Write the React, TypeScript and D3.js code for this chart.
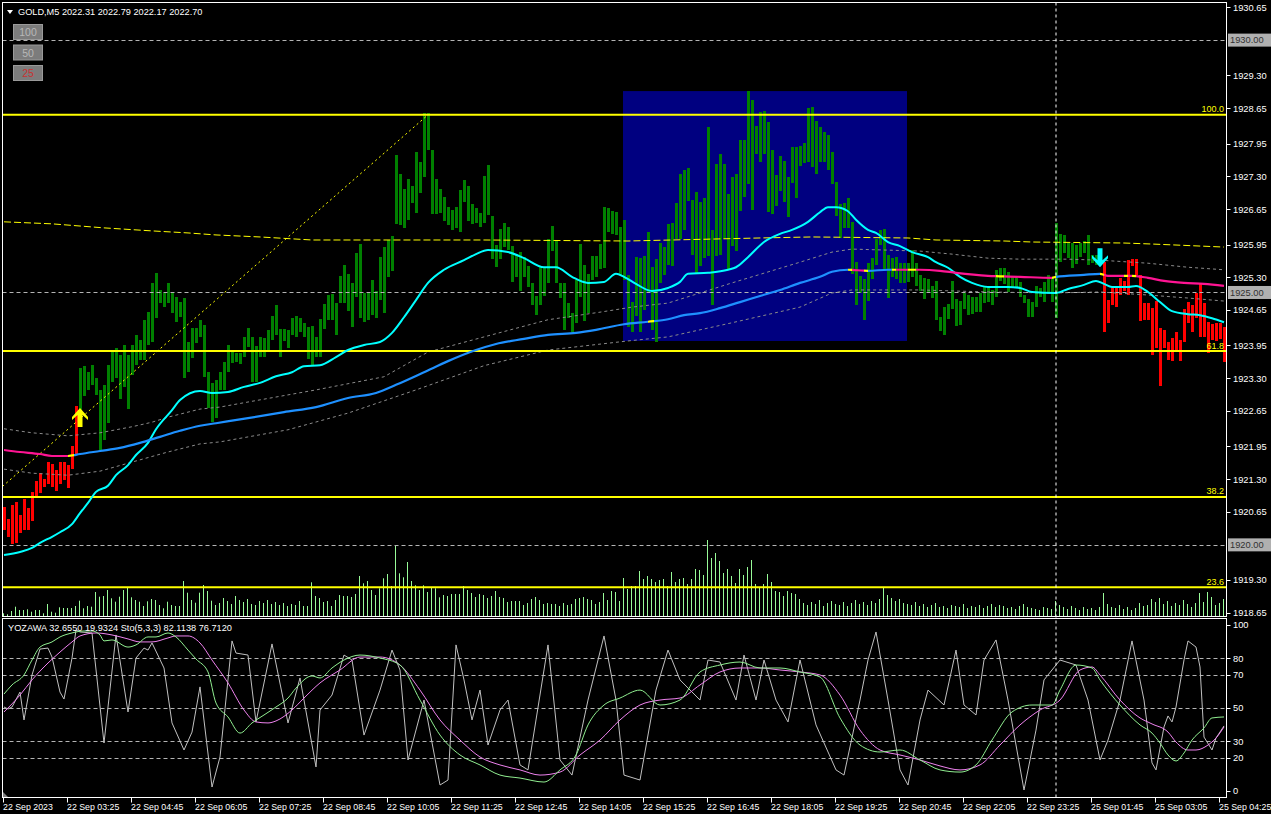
import React from 'react';
import * as d3 from 'd3';

type Knot = [number, number];
type Trend = 'up' | 'down' | 'flat';

// ---- GOLD M5 bars (high / low), bar 0 = 22 Sep 02:05 ----
const highs = [
  1920.75, 1920.51, 1920.79, 1920.85, 1920.59, 1920.91, 1920.73, 1921.05, 1921.26, 1921.42,
  1921.30, 1921.64, 1921.60, 1921.48, 1921.64, 1921.64, 1921.58, 1921.96, 1922.75, 1923.50,
  1923.54, 1923.42, 1923.56, 1923.31, 1923.07, 1923.17, 1923.56, 1923.86, 1923.90, 1923.76,
  1923.96, 1923.76, 1923.96, 1924.16, 1924.06, 1924.46, 1924.61, 1925.19, 1925.39, 1925.05,
  1924.99, 1925.19, 1924.99, 1924.91, 1924.81, 1924.89, 1924.02, 1924.30, 1924.30, 1924.46,
  1924.36, 1923.42, 1923.21, 1923.27, 1923.42, 1923.62, 1923.96, 1923.82, 1923.80, 1923.80,
  1924.12, 1924.30, 1924.12, 1923.94, 1924.12, 1924.10, 1924.26, 1924.53, 1924.75, 1924.28,
  1924.28, 1924.26, 1924.49, 1924.53, 1924.49, 1924.40, 1924.32, 1924.34, 1924.12, 1924.47,
  1924.77, 1924.95, 1924.97, 1924.79, 1925.33, 1925.54, 1925.37, 1925.19, 1925.78, 1925.96,
  1924.99, 1924.99, 1925.25, 1925.03, 1925.70, 1925.90, 1926.04, 1926.12, 1927.72, 1927.35,
  1927.05, 1927.25, 1927.11, 1927.78, 1927.58, 1928.56, 1928.56, 1927.82, 1927.25, 1927.05,
  1926.89, 1926.69, 1926.63, 1926.69, 1927.03, 1927.23, 1927.11, 1926.75, 1926.67, 1926.57,
  1927.31, 1927.53, 1926.52, 1925.94, 1926.26, 1926.38, 1926.30, 1925.92, 1925.76, 1925.80,
  1925.70, 1925.52, 1925.19, 1924.93, 1925.50, 1925.50, 1926.06, 1926.32, 1926.04, 1925.19,
  1925.19, 1924.79, 1924.59, 1925.25, 1925.96, 1925.54, 1925.37, 1925.72, 1925.72, 1925.96,
  1926.69, 1926.67, 1926.61, 1926.59, 1926.30, 1926.44, 1925.35, 1924.81, 1925.70, 1925.68,
  1925.72, 1926.20, 1925.50, 1925.66, 1925.98, 1925.90, 1926.36, 1926.38, 1926.77, 1927.35,
  1927.43, 1927.47, 1926.83, 1926.99, 1926.79, 1926.87, 1928.28, 1926.24, 1927.55, 1927.74,
  1927.55, 1926.95, 1927.29, 1927.35, 1928.02, 1928.02, 1928.99, 1928.81, 1928.30, 1928.58,
  1928.60, 1928.38, 1927.82, 1927.33, 1927.70, 1927.61, 1927.29, 1927.88, 1927.88, 1927.90,
  1927.96, 1928.66, 1928.68, 1928.40, 1928.28, 1928.18, 1928.12, 1927.78, 1927.19, 1926.75,
  1926.77, 1926.87, 1926.40, 1925.60, 1925.33, 1925.27, 1925.58, 1925.68, 1926.06, 1926.24,
  1926.26, 1925.74, 1925.68, 1925.70, 1925.58, 1925.58, 1925.58, 1925.84, 1925.58, 1925.35,
  1925.29, 1925.27, 1925.13, 1925.23, 1924.51, 1924.71, 1924.77, 1925.23, 1924.87, 1924.83,
  1924.99, 1924.95, 1924.91, 1924.91, 1924.99, 1925.11, 1925.09, 1925.05, 1925.45, 1925.49,
  1925.49, 1925.41, 1925.31, 1925.31, 1925.21, 1924.95, 1924.87, 1924.81, 1925.13, 1925.09,
  1925.21, 1925.35, 1925.29, 1926.38, 1926.16, 1926.14, 1925.98, 1925.98, 1925.94, 1925.98,
  1926.02, 1926.14, 1925.74, 1925.74, 1925.74, 1925.60, 1924.85, 1925.09, 1925.09, 1925.29,
  1925.23, 1925.64, 1925.66, 1925.66, 1925.35, 1924.79, 1924.79, 1924.69, 1924.83, 1924.30,
  1924.26, 1924.02, 1924.10, 1924.22, 1924.06, 1924.67, 1924.81, 1924.75, 1924.99, 1925.19,
  1924.79, 1924.42, 1924.38, 1924.40, 1924.40, 1924.32,
];

const lows = [
  1920.29, 1920.16, 1920.02, 1920.04, 1920.23, 1920.29, 1920.29, 1920.47, 1920.95, 1921.03,
  1921.15, 1921.21, 1921.15, 1921.07, 1921.21, 1921.28, 1921.13, 1921.50, 1921.80, 1922.33,
  1922.95, 1923.07, 1923.17, 1922.97, 1921.88, 1922.08, 1922.41, 1923.23, 1923.31, 1922.89,
  1923.13, 1922.69, 1923.36, 1923.56, 1923.66, 1923.66, 1923.96, 1924.02, 1924.49, 1924.79,
  1924.71, 1924.79, 1924.59, 1924.42, 1924.51, 1923.31, 1923.42, 1923.70, 1924.00, 1924.12,
  1923.33, 1922.71, 1922.43, 1922.51, 1923.07, 1923.07, 1923.42, 1923.60, 1923.62, 1923.58,
  1923.72, 1923.92, 1923.23, 1923.23, 1923.72, 1923.72, 1923.86, 1924.06, 1924.16, 1923.72,
  1924.04, 1923.90, 1924.16, 1924.12, 1924.22, 1924.12, 1923.68, 1923.56, 1923.72, 1923.72,
  1924.28, 1924.46, 1924.46, 1924.16, 1924.79, 1924.79, 1924.63, 1924.32, 1924.91, 1924.49,
  1924.42, 1924.46, 1924.55, 1924.49, 1924.85, 1924.59, 1925.31, 1925.43, 1926.36, 1926.34,
  1926.28, 1926.44, 1926.77, 1926.57, 1926.97, 1927.29, 1927.82, 1926.55, 1926.55, 1926.57,
  1926.42, 1926.34, 1926.24, 1926.28, 1926.20, 1926.79, 1926.42, 1926.36, 1926.38, 1926.30,
  1926.38, 1926.54, 1925.66, 1925.50, 1925.66, 1925.90, 1925.84, 1925.21, 1925.31, 1925.03,
  1925.31, 1925.11, 1924.75, 1924.55, 1924.75, 1924.93, 1925.19, 1925.82, 1925.19, 1924.89,
  1924.26, 1924.49, 1924.22, 1924.40, 1924.91, 1924.43, 1924.59, 1925.25, 1925.31, 1925.47,
  1925.49, 1926.20, 1926.16, 1926.14, 1925.35, 1925.25, 1924.32, 1924.22, 1924.53, 1924.22,
  1924.65, 1924.99, 1924.26, 1924.02, 1925.19, 1925.35, 1925.54, 1925.52, 1926.06, 1926.06,
  1926.24, 1926.81, 1925.74, 1925.39, 1925.52, 1925.68, 1925.72, 1924.75, 1925.72, 1925.74,
  1926.06, 1925.47, 1925.92, 1925.82, 1926.61, 1926.89, 1927.15, 1926.63, 1927.74, 1927.58,
  1927.74, 1926.59, 1926.55, 1926.71, 1927.01, 1926.79, 1926.50, 1927.17, 1926.87, 1927.51,
  1927.57, 1927.58, 1927.49, 1927.35, 1927.58, 1927.58, 1927.43, 1927.15, 1926.52, 1926.08,
  1926.28, 1926.28, 1925.37, 1924.75, 1924.99, 1924.46, 1924.83, 1925.27, 1925.54, 1925.94,
  1925.47, 1924.89, 1925.31, 1925.27, 1925.19, 1925.19, 1925.21, 1925.31, 1925.13, 1925.03,
  1924.87, 1924.99, 1924.89, 1924.46, 1924.24, 1924.16, 1924.47, 1924.67, 1924.34, 1924.36,
  1924.67, 1924.55, 1924.57, 1924.61, 1924.61, 1924.79, 1924.81, 1924.75, 1924.91, 1925.23,
  1925.17, 1925.01, 1925.11, 1925.09, 1924.91, 1924.79, 1924.51, 1924.51, 1924.71, 1924.91,
  1924.81, 1924.99, 1924.81, 1924.49, 1925.60, 1925.78, 1925.68, 1925.49, 1925.56, 1925.70,
  1925.78, 1925.54, 1925.58, 1925.54, 1925.60, 1924.22, 1924.40, 1924.75, 1924.71, 1924.95,
  1925.03, 1924.95, 1925.53, 1925.35, 1924.43, 1924.46, 1924.46, 1923.76, 1923.90, 1923.15,
  1923.90, 1923.66, 1923.64, 1923.84, 1923.64, 1924.02, 1924.40, 1924.22, 1924.49, 1924.12,
  1924.12, 1923.80, 1924.06, 1924.04, 1924.08, 1923.62,
];

// tick volume per bar
const volumes = [
  27, 17, 50, 93, 60, 60, 67, 43, 60, 60, 27, 120, 43, 33, 87, 80, 80, 80, 100, 153,
  77, 100, 93, 240, 193, 200, 260, 177, 143, 193, 260, 287, 187, 160, 143, 100, 147, 170, 160, 110,
  77, 143, 110, 100, 100, 350, 233, 160, 133, 233, 310, 250, 153, 110,
  130, 180, 150, 120, 200, 160, 140, 170, 120, 110, 150, 130, 160, 120, 140, 110, 130, 100, 120, 110, 150,
  100, 100, 337, 200, 180, 140, 150, 100, 160, 210, 200, 200, 190, 220, 400, 327, 350, 260, 210, 277,
  377, 420, 300, 710, 427, 387, 540, 350, 307, 260, 307, 240, 287, 277, 187, 210, 200, 220, 220, 220,
  300, 260, 230, 190, 220, 210, 180, 200, 250, 190, 180, 140, 150, 150, 150, 110, 130, 170, 190, 160,
  120, 130, 120, 120, 100, 130, 110, 120, 170, 180, 190, 170, 160, 120, 140, 230, 160, 250, 240, 150,
  380, 270, 300, 300, 450, 370, 400, 370, 340, 360, 370, 300, 440, 340, 370, 380, 320, 370, 470, 460,
  410, 760, 580, 630, 550, 430, 470, 400, 330, 470, 410, 490, 560, 320, 280, 320, 420, 340, 250, 240,
  200, 250, 230, 220, 170,
  130, 110, 140, 120, 160, 100, 130, 150, 120, 110, 140, 100, 130, 160, 120, 140, 110, 150, 130, 170,
  280, 210, 180, 150, 170, 130, 120, 110, 140, 100, 120, 90, 110, 130, 90, 100, 80, 110, 100, 90,
  120, 80, 100, 90, 110, 80, 100, 120, 90, 110, 100, 80, 90, 70, 100, 120, 90, 80, 70, 60,
  90, 80, 70, 150, 110, 90, 70, 100, 80, 60, 90, 70, 80, 60, 90, 230, 120, 90, 80, 110,
  70, 90, 60, 80, 130, 100, 110, 170, 140, 180, 120, 150, 100, 130, 110, 160, 120, 90, 130, 230,
  140, 240, 190, 110, 130, 170,
];

const barTrend: [number, number, 'up' | 'down'][] = [[0, 18, 'down'], [19, 274, 'up'], [275, 305, 'down']];

// ---- moving averages [bar, price] ----
const fastMA: Knot[] = [
  [0, 1919.80], [4, 1919.86], [7, 1919.94], [9, 1920.04], [12, 1920.16], [14, 1920.25], [17, 1920.41],
  [19, 1920.63], [21, 1920.83], [23, 1921.05], [26, 1921.17], [28, 1921.38], [31, 1921.58], [33, 1921.78],
  [36, 1922.02], [38, 1922.29], [42, 1922.67], [44, 1922.87], [49, 1923.05], [52, 1923.01], [56, 1923.03],
  [60, 1923.13], [64, 1923.21], [68, 1923.34], [72, 1923.42], [75, 1923.54], [79, 1923.56], [83, 1923.72],
  [86, 1923.86], [90, 1923.96], [94, 1924.02], [97, 1924.20], [100, 1924.51], [103, 1924.85], [106, 1925.19],
  [110, 1925.45], [115, 1925.64], [118, 1925.76], [121, 1925.84], [126, 1925.80], [130, 1925.68], [135, 1925.50],
  [138, 1925.50], [142, 1925.31], [146, 1925.19], [150, 1925.21], [153, 1925.37], [155, 1925.31], [158, 1925.17],
  [162, 1925.03], [166, 1925.09], [169, 1925.21], [171, 1925.37], [176, 1925.39], [181, 1925.45], [183, 1925.50],
  [186, 1925.70], [190, 1926.00], [194, 1926.16], [197, 1926.24], [201, 1926.40], [204, 1926.59], [206, 1926.69],
  [208, 1926.69], [211, 1926.61], [213, 1926.44], [216, 1926.24], [218, 1926.18], [221, 1926.00], [224, 1925.92],
  [227, 1925.80], [231, 1925.70], [233, 1925.60], [236, 1925.49], [239, 1925.31], [242, 1925.19], [246, 1925.11],
  [251, 1925.11], [254, 1925.09], [257, 1925.01], [263, 1924.99], [266, 1925.07], [270, 1925.15], [273, 1925.23],
  [275, 1925.17], [277, 1925.11], [281, 1925.11], [283, 1925.13], [286, 1925.01], [289, 1924.81], [292, 1924.63],
  [296, 1924.57], [299, 1924.55], [302, 1924.49], [305, 1924.41],
];

const slowMA: Knot[] = [
  [0, 1921.88], [4, 1921.84], [9, 1921.80], [12, 1921.76], [16, 1921.76], [19, 1921.80], [24, 1921.86],
  [29, 1921.92], [34, 1922.02], [39, 1922.14], [44, 1922.26], [49, 1922.36], [53, 1922.41], [61, 1922.51],
  [70, 1922.63], [78, 1922.73], [86, 1922.91], [93, 1923.01], [98, 1923.17], [105, 1923.42], [111, 1923.64],
  [118, 1923.86], [123, 1923.98], [130, 1924.08], [136, 1924.16], [143, 1924.20], [148, 1924.26], [155, 1924.37],
  [161, 1924.42], [166, 1924.47], [170, 1924.55], [174, 1924.59], [179, 1924.69], [184, 1924.81], [189, 1924.93],
  [194, 1925.05], [199, 1925.19], [204, 1925.31], [207, 1925.41], [211, 1925.45], [216, 1925.43], [221, 1925.45],
  [229, 1925.45], [234, 1925.43], [238, 1925.39], [246, 1925.33], [254, 1925.31], [262, 1925.29], [263, 1925.31],
  [270, 1925.35], [274, 1925.37], [276, 1925.33], [282, 1925.33], [286, 1925.29], [290, 1925.23], [295, 1925.19],
  [300, 1925.17], [305, 1925.13],
];

const slowTrend: [number, number, Trend][] = [
  [0, 16, 'down'], [16, 17.5, 'flat'], [17.5, 161, 'up'], [161, 162.5, 'flat'], [162.5, 211, 'up'],
  [211, 212, 'flat'], [212, 215, 'down'], [215, 216, 'flat'], [216, 222, 'up'], [222, 223, 'flat'],
  [223, 226, 'down'], [226, 228, 'flat'], [228, 248, 'down'], [248, 250, 'flat'], [250, 262, 'down'],
  [262, 263, 'flat'], [263, 274, 'up'], [274, 275, 'flat'], [275, 280, 'down'], [280, 281, 'flat'],
  [281, 282, 'down'], [282, 283, 'flat'], [283, 305.5, 'down'],
];

const upperBand: Knot[] = [
  [0, 1922.30], [7, 1922.22], [16, 1922.16], [24, 1922.22], [32, 1922.34], [37, 1922.43], [41, 1922.53],
  [45, 1922.61], [49, 1922.69], [54, 1922.73], [61, 1922.83], [78, 1923.07], [95, 1923.33], [106, 1923.82],
  [120, 1924.12], [136, 1924.46], [149, 1924.61], [157, 1924.71], [166, 1924.79], [182, 1925.19], [199, 1925.60],
  [207, 1925.80], [212, 1925.86], [229, 1925.82], [237, 1925.76], [246, 1925.68], [254, 1925.66], [266, 1925.66],
  [274, 1925.64], [286, 1925.58], [296, 1925.50], [305, 1925.45],
];

const lowerBand: Knot[] = [
  [0, 1921.50], [7, 1921.42], [16, 1921.38], [24, 1921.46], [32, 1921.64], [41, 1921.84], [49, 1922.00],
  [54, 1922.04], [71, 1922.28], [86, 1922.61], [103, 1923.07], [120, 1923.55], [136, 1923.86], [156, 1924.04],
  [166, 1924.12], [182, 1924.40], [199, 1924.71], [207, 1924.99], [212, 1925.05], [229, 1925.05], [246, 1925.01],
  [262, 1924.99], [274, 1925.01], [286, 1924.95], [296, 1924.89], [305, 1924.83],
];

const longMA: Knot[] = [
  [0, 1926.40], [12, 1926.36], [25, 1926.28], [37, 1926.22], [46, 1926.18], [53, 1926.14], [64, 1926.10],
  [77, 1926.04], [120, 1926.04], [156, 1926.02], [189, 1926.08], [202, 1926.10], [226, 1926.08], [233, 1926.04],
  [250, 1926.02], [257, 1926.00], [280, 1925.98], [287, 1925.96], [299, 1925.92], [305, 1925.90],
];

// ---- objects ----
const fibFrom: Knot = [-71, 1916.27];
const fibTo: Knot = [106, 1928.52];
const fibLevels = [23.6, 38.2, 61.8, 100.0];
const zoneBars = [155, 226];
const zonePrices = [1924.04, 1928.99];
const roundLevels = [1930.0, 1925.0, 1920.0];
const separatorBar = 263;
const signals: { bar: number; price: number; dir: 'up' | 'down' }[] = [
  { bar: 19, price: 1922.71, dir: 'up' },
  { bar: 274, price: 1925.5, dir: 'down' },
];

// ---- oscillator window [bar, value] ----
const yozawa: Knot[] = [
  [0, 50.6], [1, 49.4], [2, 50.6], [4, 59.6], [5, 42.8], [7, 69.9], [9, 85.5], [11, 86.1], [12, 80.7],
  [14, 59.6], [15, 55.4], [17, 80.1], [18, 97.0], [19, 95.8], [22, 95.2], [25, 28.9], [28, 94.0], [31, 47.6],
  [33, 80.1], [35, 86.1], [36, 84.9], [37, 89.2], [40, 74.1], [42, 41.0], [45, 24.7], [47, 35.5], [49, 62.7],
  [52, 2.4], [54, 20.5], [57, 90.4], [58, 83.1], [61, 81.9], [63, 41.6], [67, 88.6], [71, 41.0], [74, 68.1],
  [78, 14.5], [79, 48.8], [82, 57.8], [85, 81.9], [87, 78.9], [90, 33.7], [94, 60.8], [97, 84.9], [99, 72.9],
  [101, 18.7], [105, 54.8], [109, 3.6], [111, 6.6], [113, 88.0], [115, 66.9], [117, 42.8], [119, 60.8],
  [121, 27.7], [124, 48.8], [126, 54.8], [129, 15.7], [131, 12.7], [136, 88.0], [139, 18.7], [142, 9.6],
  [146, 54.8], [150, 93.4], [153, 54.8], [155, 9.6], [159, 6.6], [163, 60.8], [166, 84.9], [169, 66.9],
  [174, 54.8], [176, 78.9], [179, 77.7], [183, 54.8], [185, 81.9], [188, 54.8], [190, 78.9], [193, 54.8],
  [196, 41.6], [199, 78.9], [203, 39.8], [208, 12.7], [210, 9.6], [214, 54.8], [216, 78.9], [218, 95.8],
  [221, 54.8], [224, 12.7], [226, 3.6], [229, 42.8], [231, 60.8], [235, 51.8], [238, 84.9], [240, 51.8],
  [243, 45.8], [245, 78.9], [248, 91.0], [251, 54.8], [255, 0.6], [258, 36.7], [260, 66.9], [264, 78.9],
  [268, 75.9], [271, 54.8], [274, 18.7], [276, 30.7], [279, 54.8], [282, 90.4], [285, 54.8], [287, 16.9],
  [288, 12.7], [290, 38.6], [291, 45.2], [292, 41.6], [293, 50.6], [295, 78.9], [296, 90.4], [298, 86.7],
  [299, 74.7], [300, 32.5], [302, 24.7], [303, 31.9], [305, 39.2],
];

const stoMain: Knot[] = [
  [0, 58.4], [2, 63.9], [5, 69.9], [7, 78.9], [9, 86.7], [12, 89.8], [14, 92.8], [17, 95.2], [20, 96.4],
  [22, 96.4], [24, 94.0], [25, 90.4], [27, 91.0], [31, 86.7], [33, 88.0], [36, 92.8], [38, 92.8], [41, 95.2],
  [43, 92.8], [46, 84.9], [48, 79.5], [51, 71.7], [53, 53.0], [56, 44.6], [59, 34.9], [62, 41.0], [65, 45.8],
  [68, 50.6], [71, 56.0], [73, 62.0], [77, 69.3], [79, 68.1], [82, 74.1], [85, 78.9], [89, 81.9], [94, 80.1],
  [99, 75.9], [104, 54.8], [109, 33.7], [114, 21.7], [119, 15.7], [124, 9.6], [129, 7.8], [135, 5.4],
  [139, 12.7], [143, 21.7], [146, 39.8], [150, 51.8], [154, 56.0], [159, 60.8], [164, 51.8], [169, 54.8],
  [174, 71.7], [179, 75.9], [184, 77.7], [189, 74.1], [194, 74.1], [199, 71.7], [204, 68.7], [209, 44.0],
  [214, 27.7], [219, 23.5], [224, 24.7], [229, 18.7], [234, 12.7], [239, 11.4], [243, 15.7], [247, 30.7],
  [252, 47.6], [257, 51.8], [262, 51.8], [264, 60.8], [268, 75.9], [272, 74.1], [274, 66.9], [279, 51.8],
  [284, 39.8], [287, 34.9], [289, 28.9], [291, 21.7], [293, 18.1], [295, 22.9], [297, 30.7], [300, 38.0],
  [302, 44.0], [305, 44.6],
];

const stoSignal: Knot[] = [
  [0, 47.6], [4, 57.8], [7, 66.9], [11, 77.1], [14, 83.7], [17, 89.8], [19, 93.4], [23, 95.2], [27, 94.0],
  [31, 91.6], [34, 89.8], [37, 89.8], [41, 92.2], [43, 93.4], [46, 93.4], [49, 89.2], [52, 78.9], [56, 65.1],
  [60, 48.8], [63, 41.6], [66, 41.0], [68, 42.2], [72, 48.8], [75, 56.0], [79, 65.1], [84, 72.9], [89, 80.7],
  [94, 80.7], [99, 75.9], [104, 60.8], [109, 42.8], [114, 30.7], [119, 20.5], [124, 15.7], [129, 12.7],
  [134, 9.6], [139, 11.4], [144, 21.7], [149, 30.7], [154, 42.8], [159, 51.8], [164, 54.8], [169, 56.0],
  [174, 63.9], [179, 71.7], [184, 74.1], [189, 74.1], [194, 72.9], [199, 71.7], [204, 69.9], [209, 57.8],
  [214, 36.7], [219, 24.7], [224, 21.7], [229, 18.7], [234, 15.1], [239, 12.7], [244, 15.7], [249, 27.7],
  [254, 39.8], [259, 48.8], [264, 54.8], [269, 72.9], [272, 74.7], [274, 69.9], [279, 54.8], [284, 44.0],
  [287, 40.4], [291, 35.5], [293, 29.5], [296, 24.7], [298, 24.7], [301, 27.7], [303, 31.9], [305, 38.6],
];

// ---- axes ----
const priceTicks = [
  1930.65, 1929.3, 1928.65, 1927.95, 1927.3, 1926.65, 1925.95, 1925.3, 1924.65, 1923.95,
  1923.3, 1922.65, 1921.95, 1921.3, 1920.65, 1919.3, 1918.65,
];
const oscTicks = [100, 80, 70, 50, 30, 20, 0];
const oscLevels = [80, 70, 50, 30, 20];
const timeTicks: [number, string][] = [
  [0, '22 Sep 2023'], [16, '22 Sep 03:25'], [32, '22 Sep 04:45'], [48, '22 Sep 06:05'], [64, '22 Sep 07:25'],
  [80, '22 Sep 08:45'], [96, '22 Sep 10:05'], [112, '22 Sep 11:25'], [128, '22 Sep 12:45'], [144, '22 Sep 14:05'],
  [160, '22 Sep 15:25'], [176, '22 Sep 16:45'], [192, '22 Sep 18:05'], [208, '22 Sep 19:25'], [224, '22 Sep 20:45'],
  [240, '22 Sep 22:05'], [256, '22 Sep 23:25'], [272, '25 Sep 01:45'], [288, '25 Sep 03:05'], [304, '25 Sep 04:25'],
];
const headerText = 'GOLD,M5  2022.31 2022.79 2022.17 2022.70';
const oscLabel = 'YOZAWA 32.6550 19.9324  Sto(5,3,3) 82.1138 76.7120';
const zoomButtons = ['100', '50', '25'];

const FONT = "'Liberation Sans', Arial, sans-serif";
const trendColor: Record<Trend, string> = { up: '#1e90ff', down: '#ff1493', flat: '#ffff00' };

function arrowPath(cx: number, tipY: number, dir: 'up' | 'down') {
  const s = dir === 'up' ? 1 : -1;
  const pts = [[0, 0], [8, 9], [8, 12], [2.5, 7], [2.5, 19], [-2.5, 19], [-2.5, 7], [-8, 12], [-8, 9]];
  return 'M' + pts.map(([dx, dy]) => `${cx + dx},${tipY + s * dy}`).join('L') + 'Z';
}

export default function App() {
  const main = { left: 2.5, right: 1226.5, top: 2.5, bottom: 616.5 };
  const osc = { top: 618.5, bottom: 797.5 };

  const x = d3.scaleLinear().domain([0, highs.length - 1]).range([4, 1224]);
  const y = d3.scaleLinear().domain([1918.65, 1930.65]).range([613, 7.3]);
  const yVol = d3.scaleLinear().domain([0, 800]).range([616, 536]);
  const yOsc = d3.scaleLinear().domain([0, 100]).range([791, 625]);

  const smooth = d3.line<Knot>().x(d => x(d[0])).y(d => y(d[1])).curve(d3.curveMonotoneX);
  const straight = d3.line<Knot>().x(d => x(d[0])).y(d => y(d[1]));
  const oscSmooth = d3.line<Knot>().x(d => x(d[0])).y(d => yOsc(d[1])).curve(d3.curveMonotoneX);
  const oscStraight = d3.line<Knot>().x(d => x(d[0])).y(d => yOsc(d[1]));

  const barColor = (i: number) => {
    const seg = barTrend.find(([a, b]) => i >= a && i <= b);
    return seg && seg[2] === 'down' ? '#ff0000' : '#008000';
  };

  const fibPrice = (lvl: number) => fibFrom[1] + (fibTo[1] - fibFrom[1]) * lvl / 100;

  return (
    <svg width={1271} height={814} style={{ position: 'fixed', left: 0, top: 0, display: 'block', background: '#000' }}
      fontFamily={FONT}>
      <defs>
        <clipPath id="mainClip">
          <rect x={main.left} y={main.top} width={main.right - main.left} height={main.bottom - main.top} />
        </clipPath>
        <clipPath id="oscClip">
          <rect x={main.left} y={osc.top} width={main.right - main.left} height={osc.bottom - osc.top} />
        </clipPath>
        {slowTrend.map(([a, b], k) => (
          <clipPath id={`slow${k}`} key={k}>
            <rect x={x(a)} y={0} width={Math.max(0.5, x(b) - x(a))} height={620} />
          </clipPath>
        ))}
      </defs>
      <rect x={0} y={0} width={1271} height={814} fill="#000" />

      <g clipPath="url(#mainClip)">
        {/* supply/demand zone */}
        <rect x={x(zoneBars[0]) - 1} y={y(zonePrices[1])} width={x(zoneBars[1]) - x(zoneBars[0])}
          height={y(zonePrices[0]) - y(zonePrices[1])} fill="#000080" />

        {/* volumes */}
        {volumes.map((v, i) => (
          <line key={i} x1={x(i) - 0.5} x2={x(i) - 0.5} y1={yVol(0)} y2={yVol(v)} stroke="#98fb98" strokeWidth={1} />
        ))}

        {/* bars */}
        <g shapeRendering="crispEdges">
          {highs.map((h, i) => {
            const top = y(h);
            const bot = y(lows[i]);
            return <rect key={i} x={x(i) - 1} y={top} width={3} height={Math.max(1, bot - top)} fill={barColor(i)} />;
          })}
        </g>

        {/* round levels */}
        {roundLevels.map(p => (
          <line key={p} x1={main.left} x2={main.right} y1={Math.round(y(p)) + 0.5} y2={Math.round(y(p)) + 0.5}
            stroke="#b4b4b4" strokeDasharray="4 3" />
        ))}

        {/* envelope */}
        <path d={straight(upperBand) || ''} fill="none" stroke="#8a8a8a" strokeDasharray="3 3" />
        <path d={straight(lowerBand) || ''} fill="none" stroke="#8a8a8a" strokeDasharray="3 3" />

        {/* long MA */}
        <path d={straight(longMA) || ''} fill="none" stroke="#ffff00" strokeWidth={1} strokeDasharray="7 3" />

        {/* fibonacci */}
        <line x1={x(fibFrom[0])} y1={y(fibFrom[1])} x2={x(fibTo[0])} y2={y(fibTo[1])}
          stroke="#ffff00" strokeDasharray="2 3" />
        {fibLevels.map(l => (
          <line key={l} x1={main.left} x2={main.right} y1={y(fibPrice(l))} y2={y(fibPrice(l))} stroke="#ffff00" strokeWidth={2} />
        ))}

        {/* fast MA */}
        <path d={smooth(fastMA) || ''} fill="none" stroke="#00ffff" strokeWidth={2} />

        {/* slow MA coloured by slope */}
        {slowTrend.map(([, , t], k) => (
          <path key={k} d={smooth(slowMA) || ''} fill="none" stroke={trendColor[t]} strokeWidth={2.2}
            clipPath={`url(#slow${k})`} />
        ))}

        {/* signals */}
        {signals.map((s, k) => (
          <path key={k} d={arrowPath(x(s.bar), y(s.price), s.dir)} fill={s.dir === 'up' ? '#ffff00' : '#00ffff'} />
        ))}

        {fibLevels.map(l => (
          <text key={l} x={1224} y={y(fibPrice(l)) - 2.5} textAnchor="end" fontSize={9} fill="#ffff00">
            {l.toFixed(1)}
          </text>
        ))}
      </g>

      {/* oscillator window */}
      <g clipPath="url(#oscClip)">
        {oscLevels.map(l => (
          <line key={l} x1={main.left} x2={main.right} y1={Math.round(yOsc(l)) + 0.5} y2={Math.round(yOsc(l)) + 0.5}
            stroke="#b4b4b4" strokeDasharray="4 3" />
        ))}
        <path d={oscStraight(yozawa) || ''} fill="none" stroke="#c0c0c0" strokeWidth={1} />
        <path d={oscSmooth(stoSignal) || ''} fill="none" stroke="#ee82ee" strokeWidth={1} />
        <path d={oscSmooth(stoMain) || ''} fill="none" stroke="#90ee90" strokeWidth={1} />
        <path d={`M${main.left},${osc.bottom}L${main.left + 6},${osc.bottom}L${main.left},${osc.bottom - 6}Z`} fill="#808080" />
      </g>

      {/* period separator */}
      <line x1={x(separatorBar)} x2={x(separatorBar)} y1={main.top} y2={osc.bottom}
        stroke="#ffffff" strokeDasharray="3 3" />

      {/* frames */}
      <rect x={main.left} y={main.top} width={main.right - main.left} height={main.bottom - main.top}
        fill="none" stroke="#ffffff" />
      <rect x={main.left} y={osc.top} width={main.right - main.left} height={osc.bottom - osc.top}
        fill="none" stroke="#ffffff" />

      {/* header */}
      <path d="M7,10L13,10L10,14Z" fill="#ffffff" />
      <text x={18} y={15} fontSize={9.2} fill="#ffffff">{headerText}</text>
      {zoomButtons.map((b, k) => (
        <g key={b}>
          <rect x={13.5} y={24.5 + k * 20.5} width={29} height={15} fill="#7c7c7c" stroke="#9a9a9a" />
          <text x={28} y={36 + k * 20.5} textAnchor="middle" fontSize={10.5} fill={b === '25' ? '#c83232' : '#b8b8b8'}>{b}</text>
        </g>
      ))}
      <text x={8} y={631} fontSize={9.2} fill="#ffffff">{oscLabel}</text>

      {/* price axis */}
      {priceTicks.map(p => (
        <g key={p}>
          <line x1={main.right} x2={main.right + 4} y1={Math.round(y(p)) + 0.5} y2={Math.round(y(p)) + 0.5} stroke="#fff" />
          <text x={1233} y={y(p) + 3.3} fontSize={9.3} fill="#ffffff">{p.toFixed(2)}</text>
        </g>
      ))}
      {roundLevels.map(p => (
        <g key={p}>
          <rect x={1228} y={y(p) - 6.5} width={43} height={13} fill="#b0b0b0" />
          <text x={1230} y={y(p) + 3.3} fontSize={9.3} fill="#303030">{p.toFixed(2)}</text>
        </g>
      ))}

      {/* oscillator axis */}
      {oscTicks.map(v => (
        <g key={v}>
          <line x1={main.right} x2={main.right + 4} y1={Math.round(yOsc(v)) + 0.5} y2={Math.round(yOsc(v)) + 0.5} stroke="#fff" />
          <text x={1233} y={yOsc(v) + 3.3} fontSize={9.3} fill="#ffffff">{v}</text>
        </g>
      ))}

      {/* time axis */}
      {timeTicks.map(([b, label]) => (
        <g key={b}>
          <line x1={Math.round(x(b)) - 0.5} x2={Math.round(x(b)) - 0.5} y1={osc.bottom} y2={osc.bottom + 5} stroke="#fff" />
          <text x={x(b) - 1} y={810} fontSize={8.8} fill="#ffffff">{label}</text>
        </g>
      ))}
    </svg>
  );
}
